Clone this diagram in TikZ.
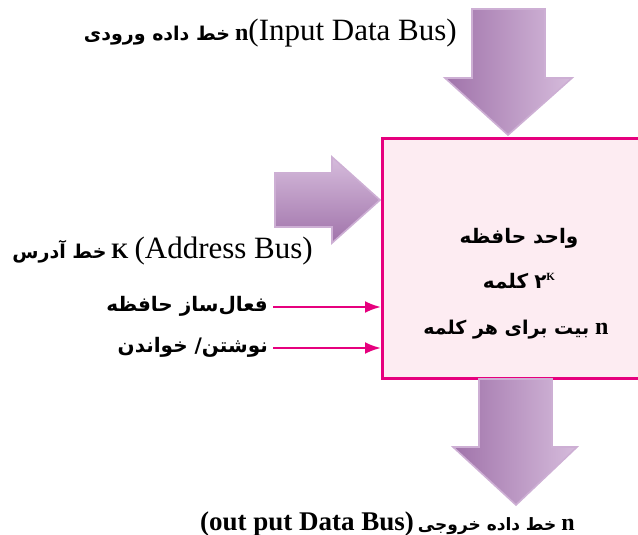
\documentclass[tikz,border=0pt]{standalone}
\usepackage{fontspec}
\usetikzlibrary{arrows.meta}
\setmainfont{Liberation Serif}
\newfontfamily\fa[Script=Arabic]{DejaVu Sans}
\TeXXeTstate=1
\definecolor{mag}{RGB}{230,0,126}
\definecolor{boxpink}{RGB}{253,236,242}
\definecolor{pdark}{RGB}{160,115,170}
\definecolor{plight}{RGB}{214,188,220}
\definecolor{pedge}{RGB}{205,175,212}
\newcommand{\fafont}{\fa\bfseries\fontsize{20}{24}\selectfont}
\newcommand{\fasmall}{\fa\bfseries\fontsize{19}{23}\selectfont}
\tikzset{
  bigarrow/.style={left color=pdark, right color=plight, draw=pedge, line width=1.6pt, line join=miter},
  ctl/.style={-{Latex[length=16pt,width=12pt]}, draw=mag, line width=2.4pt},
  lbl/.style={inner sep=0pt}
}
\begin{document}
\begin{tikzpicture}[x=1pt,y=-1pt]
\useasboundingbox (0,0) rectangle (638,535);
% memory box
\node[draw=mag, line width=2.6pt, fill=boxpink, minimum width=266pt, minimum height=240pt,
      anchor=north west, inner sep=0pt] (box) at (381,137) {};
% input arrow (top)
\shade[bigarrow] (472,9) -- (545,9) -- (545,78) -- (572,78) -- (508,135) -- (445,78) -- (472,78) -- cycle;
% output arrow (bottom)
\shade[bigarrow] (479,379) -- (552,379) -- (552,447) -- (577,447) -- (516,505) -- (453,447) -- (479,447) -- cycle;
% address arrow (left)
\shade[top color=plight, bottom color=pdark, draw=pedge, line width=1.6pt, line join=miter]
  (275,173) -- (332,173) -- (332,157) -- (380,200) -- (332,243) -- (332,227) -- (275,227) -- cycle;
% texts in the box
\node[lbl, anchor=base] (t1) at (519,243) {\fafont\beginR واحد حافظه\endR};
\node[lbl, anchor=base] (t2) at (519,288) {{\fafont\beginR کلمه\endR}\hspace{6pt}{\fafont ۲}\raisebox{8pt}{\bfseries\fontsize{11}{12}\selectfont K}};
\node[lbl, anchor=base] (t3) at (516,334) {{\fasmall\beginR بیت برای هر کلمه\endR}\hspace{6pt}{\bfseries\fontsize{24}{28}\selectfont n}};
% input bus label
\node[lbl, anchor=base east] (inlbl) at (457,41) {{\fasmall\beginR خط داده ورودی\endR}\hspace{5pt}{\bfseries\fontsize{24}{28}\selectfont n}{\fontsize{31}{34}\selectfont(Input Data Bus)}};
% address bus label
\node[lbl, anchor=base east] (adlbl) at (313,258) {{\fasmall\beginR خط آدرس\endR}\hspace{5pt}{\bfseries\fontsize{22}{26}\selectfont K}\hspace{6pt}{\fontsize{31}{34}\selectfont(Address Bus)}};
% control labels
\node[lbl, anchor=base east] (en) at (268,311) {\fafont\beginR فعال‌ساز حافظه\endR};
\node[lbl, anchor=base east] (rw) at (268,352) {\fafont\beginR نوشتن/ خواندن\endR};
\coordinate (enS) at (273,307);
\coordinate (rwS) at (273,348);
\draw[ctl] (enS) -- (enS -| box.west);
\draw[ctl] (rwS) -- (rwS -| box.west);
% output bus label
\node[lbl, anchor=base west] (outlbl) at (200,530) {{\bfseries\fontsize{27}{30}\selectfont(out put Data Bus)}\hspace{4pt}{\fa\bfseries\fontsize{17}{21}\selectfont\beginR خط داده خروجی\endR}\hspace{5pt}{\bfseries\fontsize{24}{28}\selectfont n}};
\end{tikzpicture}
\end{document}
